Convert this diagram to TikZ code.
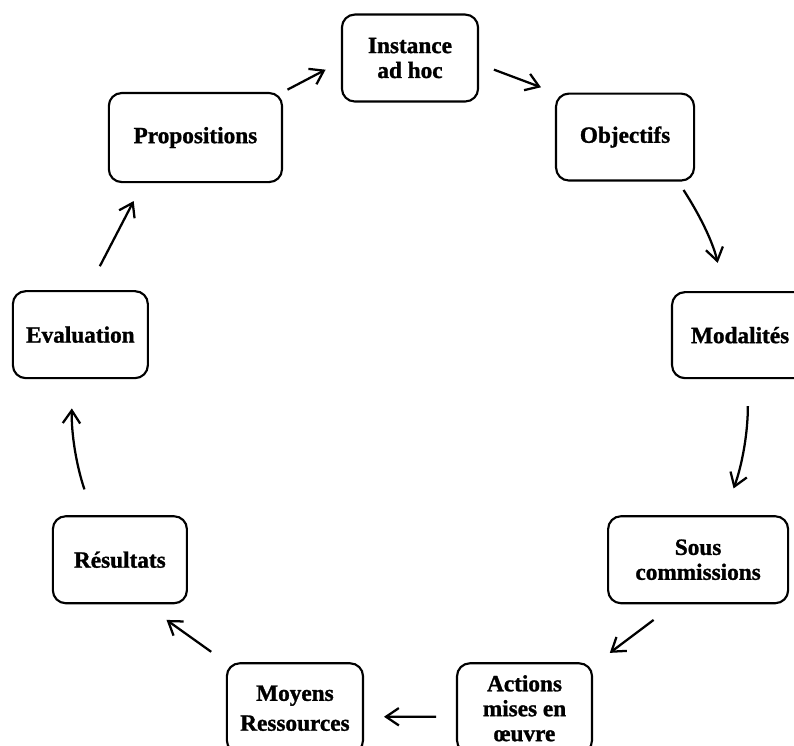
\documentclass[tikz,border=0pt]{standalone}
\usepackage{fontspec}
\setmainfont{Liberation Serif}[BoldFeatures={FakeBold=1.2}]
\usetikzlibrary{arrows.meta}

\begin{document}
\begin{tikzpicture}[
        etape/.style={
            rectangle,
            rounded corners=0.34cm,
            draw=black,
            line width=1.6pt,
            minimum width=3.6cm,
            minimum height=2.3cm,
            align=center,
            font=\fontsize{17.5}{18.75}\selectfont\bfseries
        },
        fleche/.style={
            -{Straight Barb[length=3.4mm, width=4.6mm]},
            line width=1.7pt,
            draw=black
        }
    ]
        \useasboundingbox (-10.5,-9.856) rectangle (10.5,9.856);

        \node[etape] (inst) at (0.344,8.321) {Instance\\ad hoc};
        \node[etape, minimum width=3.65cm] (obj) at (6.032,6.231) {Objectifs};
        \node[etape, minimum height=2.275cm] (moda) at (9.075,0.992) {Modalités};
        \node[etape, minimum width=4.76cm] (sous) at (7.964,-4.948) {Sous\\commissions};
        \node[etape, minimum width=3.57cm, minimum height=2.38cm] (act) at (3.373,-8.877) {Actions\\mises en\\œuvre};
        \node[etape, minimum height=2.38cm] (moy) at (-2.699,-8.877) {Moyens\\[3.75pt]Ressources};
        \node[etape, minimum width=3.545cm] (res) at (-7.329,-4.948) {Résultats};
        \node[etape, minimum width=3.57cm] (eval) at (-8.374,1.005) {Evaluation};
        \node[etape, minimum width=4.58cm, minimum height=2.355cm] (prop) at (-5.331,6.218) {Propositions};

        % le cycle
        \draw[fleche, shorten <=3.75pt, shorten >=13pt] (prop.north east) -- (inst.183);
        \draw[fleche, shorten <=11.9pt, shorten >=11.25pt] (inst.355) -- (obj.north west);
        \draw[fleche, shorten <=7.5pt, shorten >=21.75pt] (obj.320) to[bend left=10] (moda.110);
        \draw[fleche, shorten <=20.25pt, shorten >=21.4pt] (moda.280) to[bend left=10] (sous.60);
        \draw[fleche, shorten <=19.6pt, shorten >=15.75pt] (sous.242) -- (act.32);
        \draw[fleche, shorten <=15pt, shorten >=15pt] (act.187) -- (moy.353);
        \draw[fleche, shorten <=13.5pt, shorten >=20.25pt] (moy.north west) -- (res.299);
        \draw[fleche, shorten <=20.5pt, shorten >=22pt] (res.121) to[bend left=10] (eval.260);
        \draw[fleche, shorten <=20.25pt, shorten >=15.2pt] (eval.81) -- (prop.221);
    \end{tikzpicture}
\end{document}
